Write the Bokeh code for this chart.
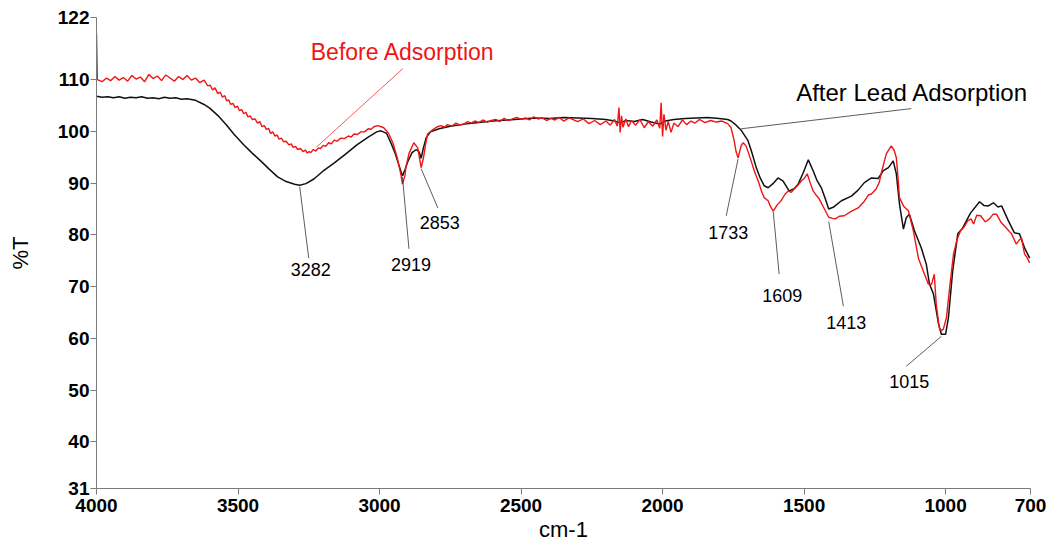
from bokeh.plotting import figure
from bokeh.models import Range1d, FixedTicker, ColumnDataSource
from bokeh.core.properties import value
from bokeh.embed import file_html
from bokeh.resources import INLINE

# FTIR spectrum after lead adsorption (wavenumber cm-1, %T)
after_wn = [4000, 3980, 3960, 3940, 3920, 3900, 3880, 3860, 3840, 3820, 3800, 3780,
            3760, 3740, 3720, 3700, 3680, 3650, 3620, 3600,
            3570, 3540, 3515, 3480, 3450, 3420, 3390, 3360, 3330, 3300, 3282, 3260,
            3232, 3200, 3162, 3120, 3080, 3040, 3010, 2995, 2975, 2960, 2945, 2930,
            2919, 2910, 2900, 2885, 2870, 2860, 2853, 2845, 2835, 2820, 2790, 2750,
            2700, 2650, 2600, 2550, 2500, 2450, 2400, 2350, 2300, 2250, 2200, 2170,
            2150, 2130, 2100, 2070, 2040, 2010, 1990, 1960, 1920, 1880, 1840, 1800,
            1770, 1758, 1740, 1722, 1698, 1685, 1669, 1655, 1641, 1627, 1610, 1592,
            1574, 1553, 1535, 1521, 1503, 1485, 1468, 1455, 1439, 1425, 1413, 1395,
            1368, 1333, 1310, 1287, 1262, 1238, 1220, 1202, 1185, 1174, 1163, 1149,
            1139, 1128, 1110, 1086, 1068, 1057, 1043, 1025, 1015, 1000, 990, 975,
            957, 940, 912, 880, 865, 849, 831, 815, 802, 778, 757, 739, 721, 703]
after_t = [106.8, 106.6, 106.7, 106.5, 106.7, 106.4, 106.6, 106.5, 106.7, 106.4, 106.5, 106.3,
           106.6, 106.4, 106.5, 106.2, 106.3, 106.0, 105.2, 104.5,
           103.0, 101.2, 99.5, 97.4, 95.8, 94.3, 92.7, 91.2, 90.3, 89.8, 89.6, 89.9,
           90.8, 92.3, 93.8, 95.6, 97.4, 98.9, 99.9, 100.1, 99.6, 97.8, 95.8, 93.2,
           91.4, 92.6, 94.2, 95.9, 96.5, 96.0, 94.8, 96.8, 98.8, 99.9, 100.5, 101.0,
           101.4, 101.7, 102.0, 102.2, 102.4, 102.6, 102.5, 102.7, 102.6, 102.5, 102.3, 102.0,
           101.6, 102.1, 101.9, 102.3, 101.8, 101.4, 102.0, 102.3, 102.5, 102.6, 102.7, 102.5,
           102.3, 102.0, 101.2, 100.2, 98.2, 96.0, 93.0, 91.0, 89.5, 89.1, 89.9, 91.0,
           90.4, 88.5, 88.9, 89.8, 92.0, 94.5, 92.4, 90.6, 89.1, 87.0, 85.0, 85.4,
           86.6, 87.5, 88.6, 90.1, 91.0, 90.9, 92.4, 93.0, 94.3, 91.8, 86.0, 81.1,
           83.3, 84.0, 80.8, 77.5, 74.3, 70.5, 68.6, 62.8, 60.8, 60.8, 64.0, 73.0,
           80.2, 81.3, 84.2, 86.4, 85.7, 85.6, 86.2, 85.4, 85.6, 82.7, 80.4, 80.2, 77.5, 75.5]

# FTIR spectrum before adsorption
before_wn = [4000, 3997, 3980, 3965, 3950, 3935, 3920, 3905, 3890, 3875, 3860, 3845,
             3830, 3815, 3800, 3785, 3770, 3755, 3740, 3725, 3710, 3695, 3680, 3665,
             3650, 3635, 3620,
             3607, 3598, 3590, 3581, 3572, 3563, 3555, 3547, 3540, 3533, 3526, 3518,
             3510, 3502, 3495, 3487, 3480, 3472, 3465, 3457, 3450, 3440, 3431, 3423,
             3415, 3407, 3400, 3392, 3385, 3377, 3370, 3362, 3355, 3347, 3339, 3330,
             3320, 3312, 3305, 3297, 3289, 3280, 3270, 3262, 3255, 3249, 3243, 3234,
             3225, 3216, 3208, 3199, 3190, 3180, 3170, 3160, 3150, 3137, 3124, 3110,
             3100, 3090, 3078, 3066, 3053, 3040, 3030, 3020, 3006,
             2985, 2968, 2953, 2938, 2925, 2919, 2910, 2907, 2896,
             2879, 2865, 2858, 2853, 2845, 2838, 2830, 2810, 2795, 2783, 2770, 2760,
             2745, 2730, 2715, 2700, 2688, 2677, 2663, 2650, 2635, 2620, 2605, 2590,
             2575, 2560, 2545, 2530, 2515, 2500, 2485, 2470, 2455, 2440, 2425, 2410,
             2395, 2380, 2365, 2350,
             2330, 2300, 2280, 2260, 2240, 2220, 2200, 2185, 2170, 2160, 2154, 2150,
             2145, 2140, 2130, 2120, 2110, 2095, 2080, 2065, 2050, 2035, 2020, 2010,
             2005, 2000, 1995, 1988, 1980, 1970, 1960, 1945, 1930, 1915, 1900, 1885,
             1870, 1850, 1830, 1810, 1790, 1770, 1758, 1747, 1740, 1733, 1722, 1715,
             1705, 1687, 1675, 1662, 1650, 1641, 1627, 1618, 1609, 1595, 1581, 1568,
             1556, 1545, 1535, 1522, 1510, 1498, 1489, 1478, 1468, 1456, 1446, 1430,
             1413, 1400, 1390, 1375, 1358, 1335, 1309, 1290, 1273, 1262, 1245, 1234,
             1227, 1215, 1209, 1192, 1182, 1174, 1168, 1163, 1149, 1131, 1114, 1096,
             1079, 1061, 1050, 1040, 1033, 1022, 1015, 1008, 997, 983, 972, 960,
             947, 935, 922, 910, 901, 890, 876, 860, 845, 832, 820, 805,
             792, 780, 767, 750, 740, 732, 721, 712, 703]
before_t = [118.9, 110.0, 109.6, 110.3, 109.8, 110.6, 109.9, 110.4, 109.7, 110.8, 110.1, 110.5,
            109.6, 111.0, 110.2, 110.7, 109.8, 110.9, 110.3, 109.7, 110.6, 110.0, 110.8, 109.9,
            110.3, 109.4, 109.9,
            108.8, 108.9, 108.0, 108.4, 107.3, 107.6, 106.6, 106.9, 105.9, 106.1, 105.2, 105.4,
            104.6, 104.9, 104.0, 104.2, 103.4, 103.7, 102.8, 103.0, 102.3, 102.4, 101.6, 101.9,
            100.9, 101.1, 100.4, 100.6, 99.6, 99.9, 99.1, 99.3, 98.5, 98.7, 98.0, 98.1,
            97.4, 97.6, 96.9, 97.1, 96.5, 96.7, 96.1, 96.4, 95.8, 96.1, 95.9, 96.5,
            96.2, 96.8, 96.7, 97.3, 97.1, 97.8, 97.6, 98.3, 98.1, 98.7, 98.6, 99.1,
            98.9, 99.5, 99.4, 99.9, 99.9, 100.5, 100.4, 100.9, 101.1,
            100.7, 99.6, 97.8, 95.0, 91.8, 89.8, 91.5, 93.0, 95.7,
            97.8, 96.8, 94.6, 93.0, 94.8, 97.3, 99.5, 100.4, 100.9, 101.1, 100.8, 101.3,
            101.0, 101.6, 101.2, 101.5, 101.9, 101.6, 102.0, 101.7, 102.2, 101.8, 102.1, 102.3,
            101.9, 102.5, 102.1, 102.4, 102.7, 102.3, 102.6, 102.2, 102.8, 102.4, 102.6, 102.1,
            102.5, 102.2, 102.7, 102.0,
            102.6, 101.9, 102.4, 101.5, 102.1, 101.3, 102.0, 101.2, 102.3, 101.0, 104.6, 99.8,
            103.0, 100.8, 102.4, 100.9, 102.1, 101.2, 102.3, 100.7, 101.9, 101.0, 102.2, 100.6,
            105.5, 99.0, 103.3, 100.2, 101.9, 99.8, 101.6, 100.9, 102.2, 101.3, 102.0, 101.6,
            102.3, 101.7, 102.1, 101.8, 102.0, 101.5, 100.7, 98.2, 96.0, 94.9, 97.3, 97.8,
            97.2, 94.3, 92.2, 90.4, 88.4, 87.2, 86.6, 85.4, 84.6, 85.8, 86.6, 87.8,
            88.5, 88.2, 88.9, 89.6, 90.4, 91.0, 91.8, 90.0, 88.5, 87.6, 86.9, 85.2,
            83.4, 83.2, 83.1, 83.6, 83.7, 84.5, 85.2, 86.3, 87.7, 87.9, 88.9, 90.2,
            92.0, 94.5, 95.7, 97.2, 96.4, 94.9, 91.0, 87.2, 85.6, 84.6, 80.8, 75.5,
            73.0, 70.5, 70.4, 72.4, 66.6, 62.0, 61.5, 61.8, 64.0, 71.1, 76.3, 79.0,
            80.8, 81.5, 82.7, 83.1, 82.1, 83.8, 83.7, 82.5, 83.1, 84.0, 84.0, 82.5,
            81.7, 81.0, 80.2, 78.2, 79.0, 79.4, 76.3, 75.6, 74.6]

assert len(after_wn) == len(after_t)
assert len(before_wn) == len(before_t)

# Peak labels
peak_labels = ["3282", "2919", "2853", "1733", "1609", "1413", "1015"]
peak_wn = [3282, 2919, 2853, 1733, 1609, 1413, 1015]

x_ticks = [4000, 3500, 3000, 2500, 2000, 1500, 1000, 700]
y_ticks = [31, 40, 50, 60, 70, 80, 90, 100, 110, 122]

BLACK = "#111111"
RED = "#f01414"
AXIS_GREY = "#7a7a7a"

# label placement: text centre, and leader-line start/end in data units
label_x = [3243, 2889, 2787, 1768, 1577, 1351, 1128]
label_y = [73.4, 74.2, 82.3, 80.4, 68.2, 63.1, 51.6]
lead_y0 = [89.3, 91.2, 92.8, 94.7, 84.5, 82.6, 60.4]
lead_x1 = [3250, 2896, 2794, 1775, 1588, 1361, 1139]
lead_y1 = [75.5, 77.3, 85.2, 83.7, 72.4, 66.2, 54.6]

p = figure(width=1052, height=548,
           x_range=Range1d(4000, 700), y_range=Range1d(31, 122),
           output_backend="svg", toolbar_location=None,
           min_border_left=96, min_border_right=22,
           min_border_top=17, min_border_bottom=60)

p.xgrid.visible = False
p.ygrid.visible = False
p.outline_line_color = None
p.background_fill_color = "white"
p.border_fill_color = "white"

p.xaxis.ticker = FixedTicker(ticks=x_ticks)
p.yaxis.ticker = FixedTicker(ticks=y_ticks)
for ax in (p.xaxis, p.yaxis):
    ax.axis_line_color = AXIS_GREY
    ax.major_tick_line_color = AXIS_GREY
    ax.minor_tick_line_color = None
    ax.major_tick_in = 0
    ax.major_tick_out = 6
    ax.major_label_text_font = "Liberation Sans"
    ax.major_label_text_font_size = "19px"
    ax.major_label_text_font_style = "bold"
    ax.major_label_text_color = "black"
    ax.axis_label_text_font = "Liberation Sans"
    ax.axis_label_text_font_size = "22px"
    ax.axis_label_text_font_style = "normal"
    ax.axis_label_text_color = "black"

p.xaxis.axis_label = "cm-1"
p.yaxis.axis_label = "%T"
p.xaxis.major_label_standoff = 4
p.xaxis.axis_label_standoff = 2
p.yaxis.major_label_standoff = 1
p.yaxis.axis_label_standoff = 22

# spectra
p.line(after_wn, after_t, line_color=BLACK, line_width=1.5)
p.line(before_wn, before_t, line_color=RED, line_width=1.4)

# peak leader lines and labels
leaders = ColumnDataSource(dict(x0=peak_wn, y0=lead_y0, x1=lead_x1, y1=lead_y1))
p.segment(x0="x0", y0="y0", x1="x1", y1="y1", source=leaders,
          line_color="#333333", line_width=0.8)

labels = ColumnDataSource(dict(x=label_x, y=label_y, t=peak_labels))
p.text(x="x", y="y", text="t", source=labels,
       text_font=value("Liberation Sans"), text_font_size=value("18px"),
       text_align="center", text_baseline="middle", text_color="black")

# series names with their leaders
p.segment(x0=[1121], y0=[104.4], x1=[1722], y1=[100.5],
          line_color="#333333", line_width=0.8)
p.text(x=[1528], y=[107.5], text=["After Lead Adsorption"],
       text_font=value("Liberation Sans"), text_font_size=value("24px"),
       text_align="left", text_baseline="middle", text_color="black")

p.segment(x0=[2918], y0=[112.1], x1=[3222], y1=[97.0],
          line_color=RED, line_width=0.7)
p.text(x=[3243], y=[115.4], text=["Before Adsorption"],
       text_font=value("Liberation Sans"), text_font_size=value("23px"),
       text_align="left", text_baseline="middle", text_color=RED)

open("out.html", "w").write(file_html(p, INLINE))
